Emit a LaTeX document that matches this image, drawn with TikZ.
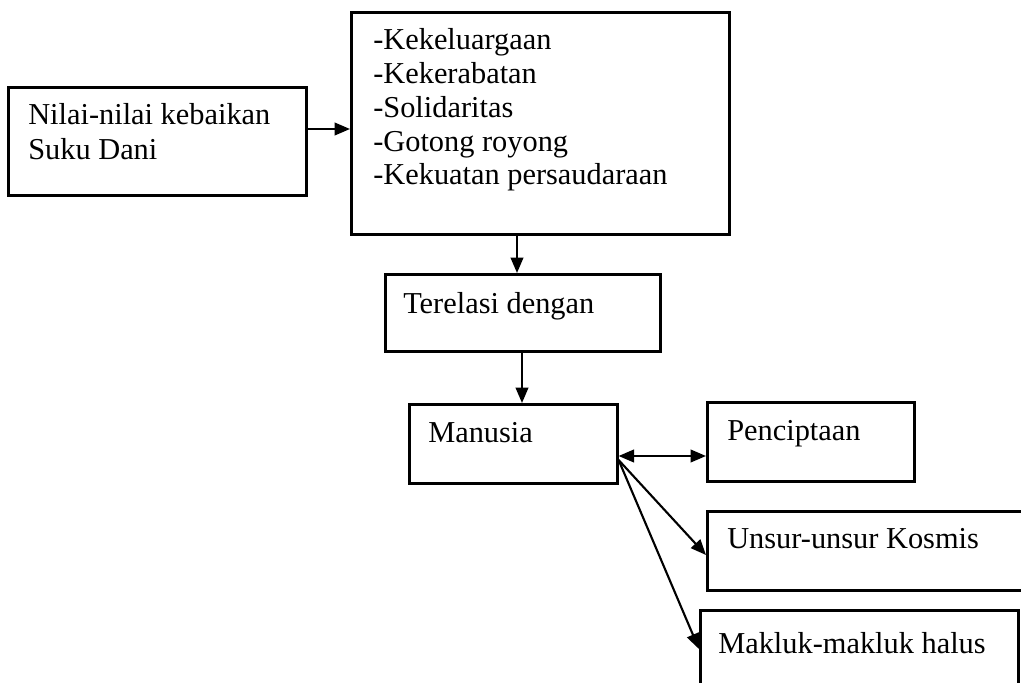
\documentclass[tikz,border=0pt]{standalone}
\usepackage{fontspec}
\setmainfont{Liberation Serif}
\usetikzlibrary{arrows.meta}
\tikzset{
  box/.style={draw, line width=1.8pt, inner sep=0pt, anchor=north west},
  txt/.style={inner sep=0pt, anchor=base west, font=\fontsize{21.6}{26}\selectfont},
  arr/.style={line width=1.5pt, -{Triangle[length=11pt,width=9pt]}},
  darr/.style={line width=1.5pt, {Triangle[length=11pt,width=9pt]}-{Triangle[length=11pt,width=9pt]}},
}
\begin{document}
\begin{tikzpicture}[x=0.025cm, y=-0.025cm]
\useasboundingbox (0,0) rectangle (1021,683);
\clip (0,0) rectangle (1021,683);
% boxes
\node[box, minimum width=7.45cm, minimum height=2.7cm] (nilai) at (7,86) {};
\node[box, minimum width=9.45cm, minimum height=5.55cm] (daftar) at (350,11) {};
\node[box, minimum width=6.875cm, minimum height=1.925cm] (terelasi) at (384,273) {};
\node[box, minimum width=5.2cm, minimum height=1.975cm] (manusia) at (408,403) {};
\node[box, minimum width=5.175cm, minimum height=1.975cm] (penciptaan) at (706,401) {};
\node[box, minimum width=8.5cm, minimum height=1.975cm] (unsur) at (706,510) {};
\node[box, minimum width=7.95cm, minimum height=2.5cm] (makluk) at (699,609) {};
% texts
\node[txt] (nilai-a) at (28,125) {Nilai-nilai kebaikan};
\node[txt] (nilai-b) at (28,160) {Suku Dani};
\foreach \t [count=\i] in {-Kekeluargaan,-Kekerabatan,-Solidaritas,-Gotong royong,-Kekuatan persaudaraan}
  \node[txt] (daftar-\i) at (373,16.25+33.75*\i) {\t};
\node[txt] (terelasi-t) at (403,313) {Terelasi dengan};
\node[txt] (manusia-t) at (428,442) {Manusia};
\node[txt] (penciptaan-t) at (727,440) {Penciptaan};
\node[txt] (unsur-t) at (727,548) {Unsur-unsur Kosmis};
\node[txt] (makluk-t) at (718,653) {Makluk-makluk halus};
% arrows
\draw[arr] (nilai.east |- 0,129) -- (daftar.west |- 0,129);
\draw[arr] (daftar.south -| 517,0) -- (terelasi.north -| 517,0);
\draw[arr] (terelasi.south -| 522,0) -- (manusia.north -| 522,0);
\draw[darr] (manusia.east |- 0,456) -- (penciptaan.west |- 0,456);
\draw[arr] (manusia.east |- 0,460) -- (unsur.west |- 0,555);
\draw[arr] (manusia.east |- 0,460) -- (makluk.west |- 0,649);
\end{tikzpicture}
\end{document}
